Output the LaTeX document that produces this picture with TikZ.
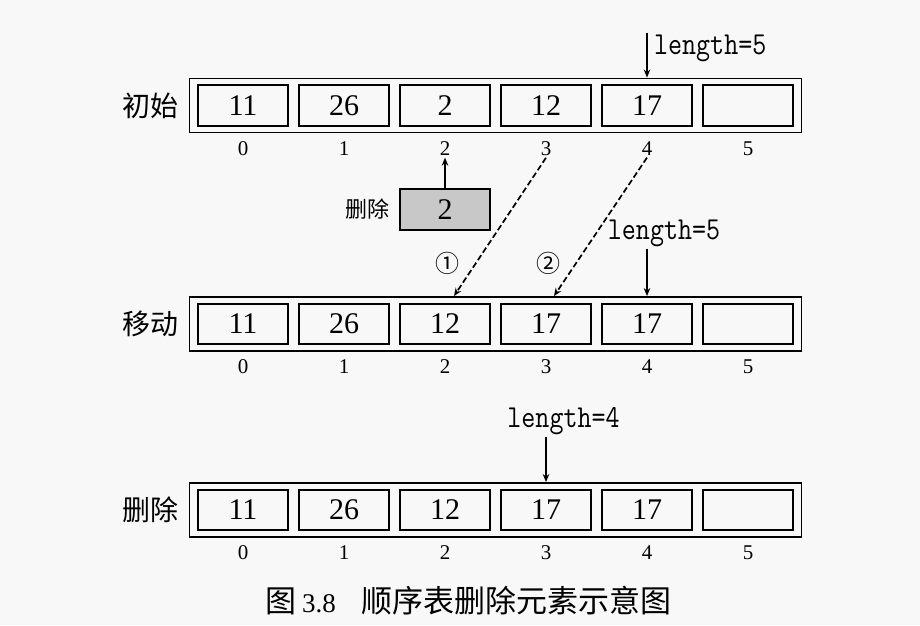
\documentclass[tikz,border=0pt]{standalone}
\usepackage{fontspec}
\setmainfont{Liberation Serif}
\newfontfamily\cjk{Noto Sans CJK SC}
\newfontfamily\lenfont[FakeStretch=0.85]{Latin Modern Mono}
\usetikzlibrary{arrows.meta, positioning, fit, calc}
\definecolor{paper}{RGB}{248,248,248}
\definecolor{shade}{RGB}{200,200,200}

\begin{document}
\begin{tikzpicture}[
    x=1pt, y=1pt,
    cell/.style={draw, line width=1.8pt, minimum width=90.5pt, minimum height=40.5pt, inner sep=0pt, font=\fontsize{30}{30}\selectfont},
    box/.style={draw, line width=1.6pt, inner xsep=7.5pt, inner ysep=6pt},
    idx/.style={inner sep=2pt, font=\fontsize{21}{21}\selectfont},
    rowlbl/.style={inner sep=0pt, font=\cjk\fontsize{28}{28}\selectfont},
    len/.style={inner sep=2pt, font=\lenfont\fontsize{32}{32}\selectfont},
    circ/.style={inner sep=0pt, font=\cjk\fontsize{24}{24}\selectfont},
    ptr/.style={->, line width=1.4pt},
    mv/.style={->, line width=1.7pt, dash pattern=on 6pt off 3pt},
    >={Stealth[length=8pt, width=6.5pt]}]
  \fill[paper] (0,0) rectangle (920,625);
  \useasboundingbox (0,0) rectangle (920,625);

  % initial table
  \foreach \v [count=\i from 0] in {11,26,2,12,17,{}}
    \node[cell] (a\i) at (243+101*\i, 519.5) {\v};
  \node[box, fit=(a0)(a5)] (r1) {};
  \node[rowlbl, left=10pt of r1] (t1) {初始};
  \foreach \i in {0,...,5}
    \node[idx] (ia\i) at ([yshift=-43pt]a\i.center) {\i};
  \coordinate (p1) at ([yshift=45pt]r1.north -| a4);
  \node[len, anchor=west] (l1) at ([xshift=5pt, yshift=-16pt]p1) {length=5};
  \draw[ptr] (p1) -- (r1.north -| a4);

  % removed element
  \node[cell, fill=shade] (g) at (445, 415.6) {2};
  \node[rowlbl, font=\cjk\fontsize{22}{22}\selectfont, left=9pt of g] (tg) {删除};
  \draw[ptr] (g) -- (ia2);

  % after moving
  \foreach \v [count=\i from 0] in {11,26,12,17,17,{}}
    \node[cell] (b\i) at (243+101*\i, 301) {\v};
  \node[box, fit=(b0)(b5)] (r2) {};
  \node[rowlbl, left=10pt of r2] (t2) {移动};
  \foreach \i in {0,...,5}
    \node[idx] (ib\i) at ([yshift=-43pt]b\i.center) {\i};
  \node[len] (l2) at ($(r2.north -| b4)+(17,63)$) {length=5};
  \draw[ptr] (l2.south -| b4) -- (r2.north -| b4);
  \draw[mv] (ia3.south) -- ($(r2.north -| b2)+(9,0)$);
  \draw[mv] (ia4.south) -- ($(r2.north -| b3)+(8,0)$);
  \node[circ] (n1) at (447, 362) {①};
  \node[circ] (n2) at (548, 362) {②};

  % after deleting
  \foreach \v [count=\i from 0] in {11,26,12,17,17,{}}
    \node[cell] (c\i) at (243+101*\i, 115) {\v};
  \node[box, fit=(c0)(c5)] (r3) {};
  \node[rowlbl, left=10pt of r3] (t3) {删除};
  \foreach \i in {0,...,5}
    \node[idx] (ic\i) at ([yshift=-43pt]c\i.center) {\i};
  \node[len] (l3) at ($(r3.north -| c3)+(17.5,61)$) {length=4};
  \draw[ptr] (l3.south -| c3) -- (r3.north -| c3);

  \node[font=\fontsize{27}{27}\selectfont] (cap) at (468.5, 24)
    {{\cjk\fontsize{31}{31}\selectfont 图}\hspace{6pt}3.8\hspace{26pt}{\cjk\fontsize{31}{31}\selectfont 顺序表删除元素示意图}};
\end{tikzpicture}
\end{document}
